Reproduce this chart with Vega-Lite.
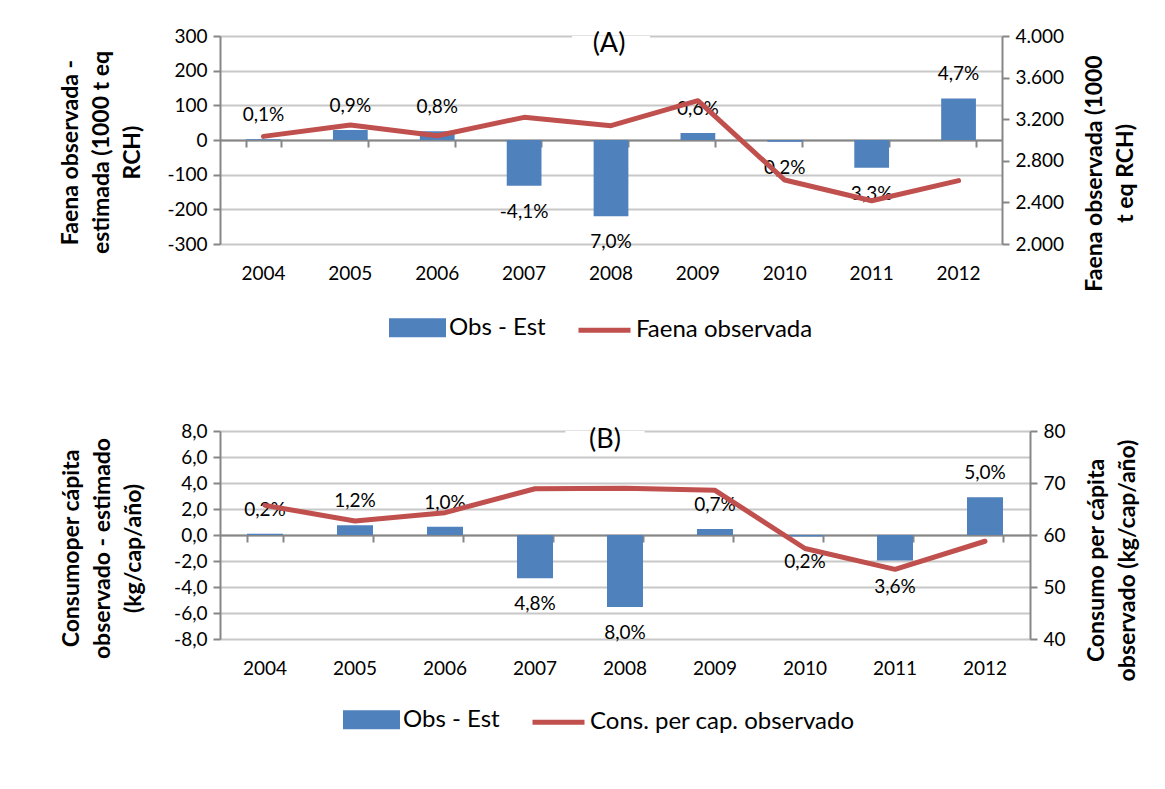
{
  "$schema": "https://vega.github.io/schema/vega-lite/v6.json",
  "background": "white",
  "padding": {"left": 59, "top": 27, "right": 0, "bottom": 0},
  "spacing": 77,
  "datasets": {
    "a": [
      {"year": 2004, "diff": 2, "faena": 3035, "label": "0,1%"},
      {"year": 2005, "diff": 29, "faena": 3144, "label": "0,9%"},
      {"year": 2006, "diff": 25, "faena": 3041, "label": "0,8%"},
      {"year": 2007, "diff": -132, "faena": 3218, "label": "-4,1%"},
      {"year": 2008, "diff": -220, "faena": 3138, "label": "7,0%"},
      {"year": 2009, "diff": 20, "faena": 3378, "label": "0,6%"},
      {"year": 2010, "diff": -5, "faena": 2615, "label": "0,2%"},
      {"year": 2011, "diff": -80, "faena": 2416, "label": "3,3%"},
      {"year": 2012, "diff": 120, "faena": 2609, "label": "4,7%"}
    ],
    "b": [
      {"year": 2004, "diff": 0.1, "cons": 65.7, "label": "0,2%"},
      {"year": 2005, "diff": 0.75, "cons": 62.7, "label": "1,2%"},
      {"year": 2006, "diff": 0.64, "cons": 64.3, "label": "1,0%"},
      {"year": 2007, "diff": -3.33, "cons": 68.9, "label": "4,8%"},
      {"year": 2008, "diff": -5.54, "cons": 69.0, "label": "8,0%"},
      {"year": 2009, "diff": 0.47, "cons": 68.6, "label": "0,7%"},
      {"year": 2010, "diff": -0.11, "cons": 57.4, "label": "0,2%"},
      {"year": 2011, "diff": -1.97, "cons": 53.4, "label": "3,6%"},
      {"year": 2012, "diff": 2.9, "cons": 58.8, "label": "5,0%"}
    ]
  },
  "resolve": {"scale": {"color": "independent"}},
  "vconcat": [
    {
      "width": 782,
      "height": 208,
      "resolve": {"scale": {"y": "independent"}, "axis": {"x": "independent"}},
      "layer": [
        {
          "data": {"name": "a"},
          "encoding": {
            "x": {
              "field": "year", "type": "ordinal",
              "scale": {"domain": [2004, 2005, 2006, 2007, 2008, 2009, 2010, 2011, 2012], "paddingInner": 0.6, "paddingOuter": 0.3},
              "axis": {"title": null, "orient": "bottom", "domain": false, "ticks": false, "grid": false, "labelAngle": 0, "labelPadding": 20, "bandPosition": 0.5}
            },
            "y": {
              "field": "diff", "type": "quantitative",
              "scale": {"domain": [-300, 300], "nice": false},
              "axis": {
                "title": ["Faena observada -", "estimada (1000 t eq", "RCH)"],
                "values": [-300, -200, -100, 0, 100, 200, 300],
                "labelOverlap": false, "labelBound": false, "labelFlush": false,
                "format": "d", "grid": true, "titlePadding": 22, "titleY": 116
              }
            }
          },
          "layer": [
            {
              "data": {"values": [{"year": 2008, "diff": 300, "v2": 258}]},
              "mark": {"type": "bar", "color": "white", "width": {"band": 2.25}},
              "encoding": {"y2": {"field": "v2"}}
            },
            {
              "mark": {"type": "bar"},
              "encoding": {
                "color": {
                  "datum": "Obs - Est", "type": "nominal",
                  "scale": {"domain": ["Obs - Est", "Faena observada"], "range": ["#4F81BD", "#C0504D"]},
                  "legend": {
                    "orient": "none", "legendX": 169, "legendY": 263, "direction": "horizontal", "title": null,
                    "labelFontSize": 24, "labelColor": "#000", "labelFont": "Lato", "labelOffset": 3,
                    "symbolSize": 2704, "columnPadding": 22, "labelLimit": 400,
                    "encode": {"symbols": {"update": {
                      "shape": {"signal": "datum.value === 'Obs - Est' ? 'M-1,-0.27H1V0.27H-1Z' : 'M-1,0H1'"},
                      "fill": {"signal": "datum.value === 'Obs - Est' ? '#4F81BD' : 'transparent'"},
                      "stroke": {"signal": "datum.value === 'Obs - Est' ? 'transparent' : '#C0504D'"},
                      "strokeWidth": {"value": 5},
                      "opacity": {"value": 1}
                    }}}
                  }
                }
              }
            },
            {
              "transform": [{"filter": "datum.diff >= 0"}],
              "mark": {"type": "text", "dy": -24, "fontSize": 19, "color": "#000", "baseline": "middle"},
              "encoding": {"text": {"field": "label"}}
            },
            {
              "transform": [{"filter": "datum.diff < 0"}],
              "mark": {"type": "text", "dy": 26, "fontSize": 19, "color": "#000", "baseline": "middle"},
              "encoding": {"text": {"field": "label"}}
            },
            {
              "data": {"values": [{"year": 2008, "diff": 277, "t": "(A)"}]},
              "mark": {"type": "text", "fontSize": 27, "color": "#000", "baseline": "middle", "dx": -2},
              "encoding": {"text": {"field": "t"}}
            }
          ]
        },
        {
          "data": {"name": "a"},
          "mark": {"type": "line", "strokeWidth": 5, "strokeCap": "round", "strokeJoin": "round"},
          "encoding": {
            "x": {
              "field": "year", "type": "ordinal",
              "axis": {"title": null, "orient": "top", "offset": -104, "labels": false, "grid": false, "domain": true, "ticks": true, "tickSize": -7, "tickBand": "extent"}
            },
            "y": {
              "field": "faena", "type": "quantitative",
              "scale": {"domain": [2000, 4000], "nice": false, "zero": false},
              "axis": {
                "orient": "right", "grid": false,
                "values": [2000, 2400, 2800, 3200, 3600, 4000], "format": ",d",
                "labelOverlap": false, "labelBound": false, "labelFlush": false,
                "title": ["Faena observada (1000", "t eq RCH)"], "titleAngle": 270, "titlePadding": 12, "titleY": 137
              }
            },
            "color": {"datum": "Faena observada", "type": "nominal"}
          }
        }
      ]
    },
    {
      "width": 810,
      "height": 208,
      "resolve": {"scale": {"y": "independent"}, "axis": {"x": "independent"}},
      "layer": [
        {
          "data": {"name": "b"},
          "encoding": {
            "x": {
              "field": "year", "type": "ordinal",
              "scale": {"domain": [2004, 2005, 2006, 2007, 2008, 2009, 2010, 2011, 2012], "paddingInner": 0.6, "paddingOuter": 0.3},
              "axis": {"title": null, "orient": "bottom", "domain": false, "ticks": false, "grid": false, "labelAngle": 0, "labelPadding": 20, "bandPosition": 0.5}
            },
            "y": {
              "field": "diff", "type": "quantitative",
              "scale": {"domain": [-8, 8], "nice": false},
              "axis": {
                "title": ["Consumoper cápita", "observado - estimado", "(kg/cap/año)"],
                "values": [-8, -6, -4, -2, 0, 2, 4, 6, 8],
                "labelOverlap": false, "labelBound": false, "labelFlush": false,
                "format": ".1f", "grid": true, "titlePadding": 28, "titleY": 117
              }
            }
          },
          "layer": [
            {
              "data": {"values": [{"year": 2008, "diff": 8, "v2": 6.1}]},
              "mark": {"type": "bar", "color": "white", "width": {"band": 2.2}, "xOffset": -20},
              "encoding": {"y2": {"field": "v2"}}
            },
            {
              "mark": {"type": "bar"},
              "encoding": {
                "color": {
                  "datum": "Obs - Est", "type": "nominal",
                  "scale": {"domain": ["Obs - Est", "Cons. per cap. observado"], "range": ["#4F81BD", "#C0504D"]},
                  "legend": {
                    "orient": "none", "legendX": 123, "legendY": 260, "direction": "horizontal", "title": null,
                    "labelFontSize": 24, "labelColor": "#000", "labelFont": "Lato", "labelOffset": 3,
                    "symbolSize": 2704, "columnPadding": 22, "labelLimit": 400,
                    "encode": {"symbols": {"update": {
                      "shape": {"signal": "datum.value === 'Obs - Est' ? 'M-1,-0.27H1V0.27H-1Z' : 'M-1,0H1'"},
                      "fill": {"signal": "datum.value === 'Obs - Est' ? '#4F81BD' : 'transparent'"},
                      "stroke": {"signal": "datum.value === 'Obs - Est' ? 'transparent' : '#C0504D'"},
                      "strokeWidth": {"value": 5},
                      "opacity": {"value": 1}
                    }}}
                  }
                }
              }
            },
            {
              "transform": [{"filter": "datum.diff >= 0"}],
              "mark": {"type": "text", "dy": -24, "fontSize": 19, "color": "#000", "baseline": "middle"},
              "encoding": {"text": {"field": "label"}}
            },
            {
              "transform": [{"filter": "datum.diff < 0"}],
              "mark": {"type": "text", "dy": 26, "fontSize": 19, "color": "#000", "baseline": "middle"},
              "encoding": {"text": {"field": "label"}}
            },
            {
              "data": {"values": [{"year": 2008, "diff": 7.3, "t": "(B)"}]},
              "mark": {"type": "text", "fontSize": 27, "color": "#000", "baseline": "middle", "dx": -20},
              "encoding": {"text": {"field": "t"}}
            }
          ]
        },
        {
          "data": {"name": "b"},
          "mark": {"type": "line", "strokeWidth": 5, "strokeCap": "round", "strokeJoin": "round"},
          "encoding": {
            "x": {
              "field": "year", "type": "ordinal",
              "axis": {"title": null, "orient": "top", "offset": -104, "labels": false, "grid": false, "domain": true, "ticks": true, "tickSize": -7, "tickBand": "extent"}
            },
            "y": {
              "field": "cons", "type": "quantitative",
              "scale": {"domain": [40, 80], "nice": false, "zero": false},
              "axis": {
                "orient": "right", "grid": false,
                "values": [40, 50, 60, 70, 80], "format": "d",
                "labelOverlap": false, "labelBound": false, "labelFlush": false,
                "title": ["Consumo per cápita", "observado (kg/cap/año)"], "titleAngle": 270, "titlePadding": 12, "titleY": 129
              }
            },
            "color": {"datum": "Cons. per cap. observado", "type": "nominal"}
          }
        }
      ]
    }
  ],
  "config": {
    "font": "Lato",
    "view": {"stroke": null},
    "locale": {"number": {"decimal": ",", "thousands": ".", "grouping": [3], "currency": ["", ""], "minus": "-"}},
    "axis": {
      "labelFont": "Lato", "labelFontSize": 19, "labelColor": "#000", "labelOverlap": false,
      "titleFont": "Lato", "titleFontSize": 23, "titleFontWeight": "bold", "titleColor": "#000", "titleLineHeight": 31,
      "domainColor": "#868686", "domainWidth": 2, "tickColor": "#868686", "tickWidth": 2, "tickSize": 7,
      "gridColor": "#C8C8C8", "gridWidth": 2, "labelPadding": 6
    }
  }
}
